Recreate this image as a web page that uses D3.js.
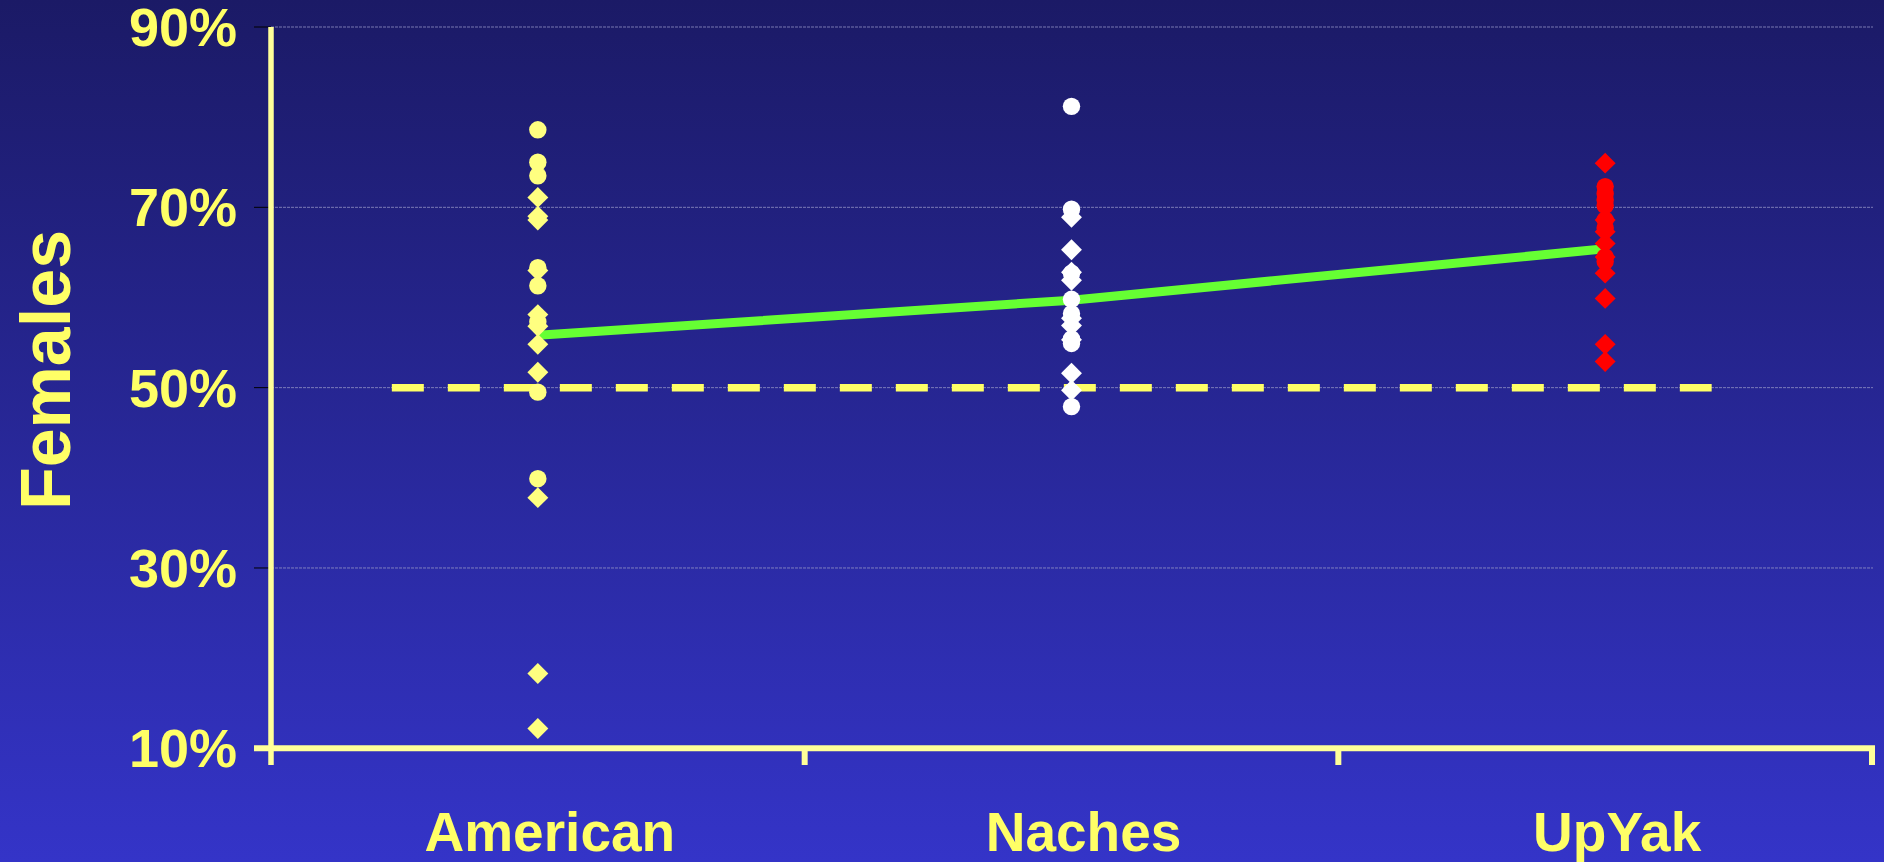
<!DOCTYPE html>
<html>
<head>
<meta charset="utf-8">
<script src="https://cdn.jsdelivr.net/npm/d3@7"></script>
<style>
  html, body { margin: 0; padding: 0; overflow: hidden; }
  svg { display: block; }
</style>
</head>
<body>
<svg id="chart" width="1884" height="862"></svg>
<script>
// ---- data ----
const categories = ["American", "Naches", "UpYak"];
const yTicks = [10, 30, 50, 70, 90];
const americanCircles = [78.6, 75.0, 73.5, 63.3, 61.3, 57.3, 49.5, 39.9];
const americanDiamonds = [71.1, 69.0, 68.6, 63.0, 58.1, 56.8, 54.8, 51.7, 37.8, 18.3, 12.2];
const nachesCircles = [81.2, 69.8, 62.7, 59.8, 58.2, 55.4, 54.9, 47.9];
const nachesDiamonds = [68.9, 65.3, 62.8, 61.9, 57.7, 56.9, 55.3, 51.6, 49.7];
const upyakCircles = [72.3, 71.5, 70.8, 70.2, 68.6, 67.7, 64.5, 64.0];
const upyakDiamonds = [74.9, 68.6, 67.3, 66.0, 64.5, 62.7, 59.9, 54.8, 52.9];
const meanValues = [55.8, 59.7, 65.4];
const referenceValue = 50;
const markerColors = ["#FFFF80", "#FFFFFF", "#FF0000"];

const circleSets = [americanCircles, nachesCircles, upyakCircles];
const diamondSets = [americanDiamonds, nachesDiamonds, upyakDiamonds];

// ---- layout ----
const W = 1884, H = 862;
const svg = d3.select("#chart");
const yellow = "#FFFF66";
const axisYellow = "#FFFF99";

const defs = svg.append("defs");
const grad = defs.append("linearGradient").attr("id", "bg")
  .attr("x1", 0).attr("y1", 0).attr("x2", 0).attr("y2", 1);
grad.append("stop").attr("offset", "0%").attr("stop-color", "#1b1a66");
grad.append("stop").attr("offset", "100%").attr("stop-color", "#3434c8");
svg.append("rect").attr("width", W).attr("height", H).attr("fill", "url(#bg)");

const x = d3.scaleBand().domain(categories).range([271, 1872]).padding(0);
const y = d3.scaleLinear().domain([10, 90]).range([748.3, 27]);
const cx = c => x(c) + x.bandwidth() / 2;

// gridlines
svg.append("g").selectAll("line").data(yTicks.filter(t => t !== 10)).join("line")
  .attr("x1", 271).attr("x2", 1873)
  .attr("y1", d => y(d)).attr("y2", d => y(d))
  .attr("stroke", "#9a9ac8").attr("stroke-opacity", 0.75)
  .attr("stroke-width", 1).attr("stroke-dasharray", "3,1");

// y tick marks (black)
svg.append("g").selectAll("line").data(yTicks).join("line")
  .attr("x1", 254).attr("x2", 271)
  .attr("y1", d => y(d)).attr("y2", d => y(d))
  .attr("stroke", "#000").attr("stroke-width", 1);

// y tick labels
svg.append("g").selectAll("text").data(yTicks).join("text")
  .attr("x", 237).attr("y", d => y(d) + 19)
  .attr("text-anchor", "end")
  .attr("font-family", "'Liberation Sans', Arial, sans-serif")
  .attr("font-weight", "bold").attr("font-size", 54)
  .attr("fill", yellow)
  .text(d => d + "%");

// y-axis title
svg.append("text")
  .attr("transform", "translate(70,370) rotate(-90)")
  .attr("text-anchor", "middle")
  .attr("font-family", "'Liberation Sans', Arial, sans-serif")
  .attr("font-weight", "bold").attr("font-size", 70)
  .attr("fill", yellow)
  .text("Females");

// category labels
svg.append("g").selectAll("text").data(categories).join("text")
  .attr("x", d => cx(d) + 12).attr("y", 851)
  .attr("text-anchor", "middle")
  .attr("font-family", "'Liberation Sans', Arial, sans-serif")
  .attr("font-weight", "bold").attr("font-size", 55)
  .attr("fill", yellow)
  .text(d => d);

// axes lines
const xr = x.range();
svg.append("line").attr("x1", 271).attr("x2", 271).attr("y1", 27).attr("y2", 765)
  .attr("stroke", axisYellow).attr("stroke-width", 5.5);
svg.append("line").attr("x1", 254).attr("x2", xr[1] + 3).attr("y1", y(10)).attr("y2", y(10))
  .attr("stroke", axisYellow).attr("stroke-width", 6);
const boundaries = categories.map(c => x(c)).concat([xr[1]]);
svg.append("g").selectAll("line").data(boundaries.slice(1)).join("line")
  .attr("x1", d => d).attr("x2", d => d)
  .attr("y1", y(10)).attr("y2", 765)
  .attr("stroke", axisYellow).attr("stroke-width", 6);

// reference dashed line at 50%
svg.append("line")
  .attr("x1", cx("American") - 146).attr("x2", cx("UpYak") + 106.5)
  .attr("y1", y(referenceValue)).attr("y2", y(referenceValue))
  .attr("stroke", yellow).attr("stroke-width", 7.5)
  .attr("stroke-dasharray", "32,24");

// mean line
const lineGen = d3.line().x((d, i) => cx(categories[i])).y(d => y(d));
svg.append("path").attr("d", lineGen(meanValues))
  .attr("fill", "none").attr("stroke", "#66FF33").attr("stroke-width", 9);

// markers
categories.forEach((c, i) => {
  const g = svg.append("g");
  g.selectAll("rect").data(diamondSets[i]).join("rect")
    .attr("x", -7.4).attr("y", -7.4).attr("width", 14.8).attr("height", 14.8)
    .attr("transform", d => `translate(${cx(c)},${y(d)}) rotate(45)`)
    .attr("fill", markerColors[i]);
  g.selectAll("circle").data(circleSets[i]).join("circle")
    .attr("cx", cx(c)).attr("cy", d => y(d)).attr("r", 8.7)
    .attr("fill", markerColors[i]);
});
</script>
</body>
</html>
